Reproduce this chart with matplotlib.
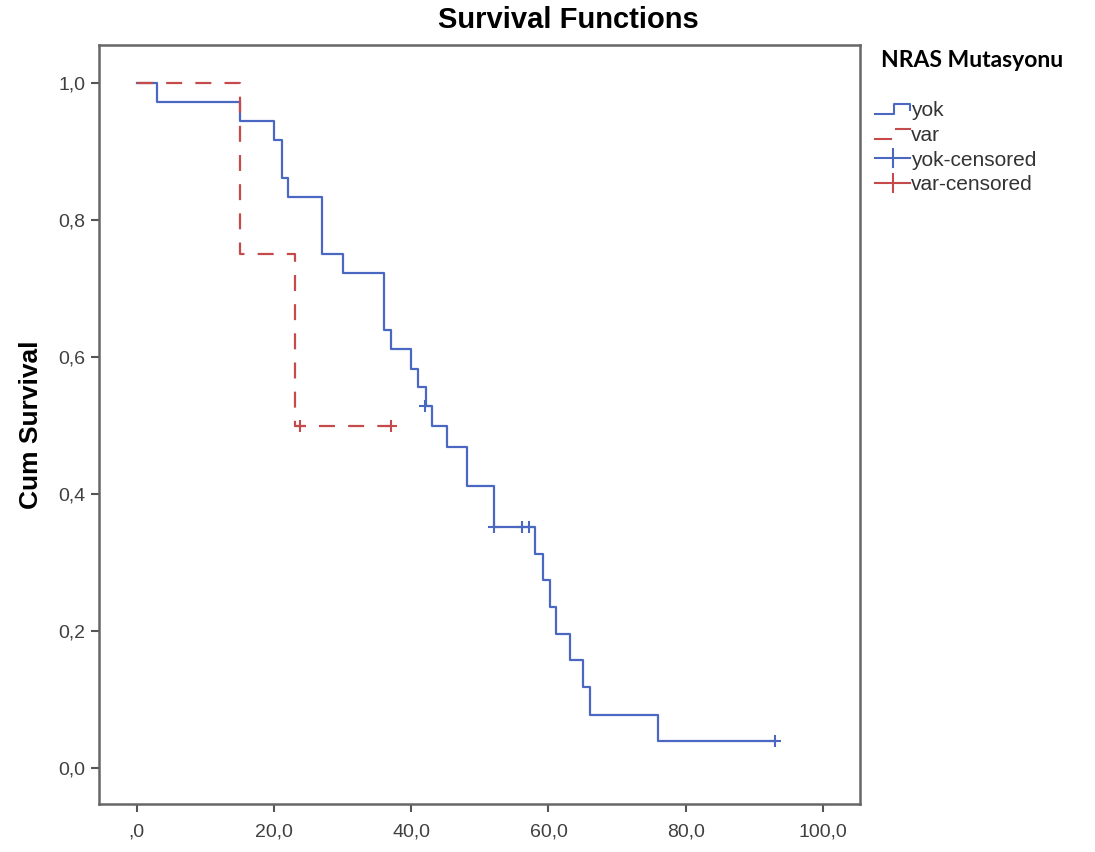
import matplotlib
matplotlib.use("Agg")
import matplotlib.pyplot as plt
from matplotlib.lines import Line2D
from matplotlib.legend_handler import HandlerBase

# Kaplan-Meier steps (months, cumulative survival)
yok_times = [0, 3, 15, 20, 21.2, 22, 27, 30, 36, 37, 40, 41, 42.1, 43, 45.2,
             48.1, 52, 58.1, 59.2, 60.2, 61.1, 63.1, 65, 66.1, 76, 93]
yok_surv = [1.0, 0.972, 0.944, 0.917, 0.861, 0.833, 0.750, 0.722, 0.639, 0.611,
            0.583, 0.556, 0.528, 0.499, 0.469, 0.411, 0.352, 0.313, 0.274,
            0.235, 0.196, 0.157, 0.118, 0.078, 0.039, 0.039]
yok_cens_t = [42.0, 52.0, 56.1, 57.1, 93.0]
yok_cens_s = [0.528, 0.352, 0.352, 0.352, 0.039]

var_times = [0, 15, 23.1, 37.0]
var_surv = [1.0, 0.75, 0.50, 0.50]
var_cens_t = [23.8, 37.0]
var_cens_s = [0.50, 0.50]

x_ticks = [0, 20, 40, 60, 80, 100]
x_labels = [",0", "20,0", "40,0", "60,0", "80,0", "100,0"]
y_ticks = [0, 0.2, 0.4, 0.6, 0.8, 1.0]
y_labels = ["0,0", "0,2", "0,4", "0,6", "0,8", "1,0"]

BLUE = "#4a67c2"
RED = "#c44a4c"
GREY = "#404040"

plt.rcParams["font.family"] = ["Liberation Sans", "DejaVu Sans"]
plt.rcParams["lines.scale_dashes"] = False


class StepHandler(HandlerBase):
    def create_artists(self, legend, orig, xd, yd, width, height, fontsize, trans):
        x = [xd, xd + width * 0.55, xd + width * 0.55, xd + width, xd + width]
        y = [yd + height * 0.15, yd + height * 0.15, yd + height * 0.85,
             yd + height * 0.85, yd + height * 0.45]
        ln = Line2D(x, y, color=orig.get_color(), lw=orig.get_linewidth(),
                    transform=trans)
        return [ln]


class DashStepHandler(HandlerBase):
    def create_artists(self, legend, orig, xd, yd, width, height, fontsize, trans):
        a = Line2D([xd, xd + width * 0.45], [yd + height * 0.15] * 2,
                   color=orig.get_color(), lw=orig.get_linewidth(), transform=trans)
        b = Line2D([xd + width * 0.6, xd + width], [yd + height * 0.85] * 2,
                   color=orig.get_color(), lw=orig.get_linewidth(), transform=trans)
        return [a, b]


fig = plt.figure(figsize=(10.95, 8.52), dpi=100)
ax = fig.add_axes([0.0904, 0.0563, 0.695, 0.8909])

ax.step(yok_times, yok_surv, where="post", color=BLUE, lw=1.6)
ax.step(var_times, var_surv, where="post", color=RED, lw=1.6,
        linestyle=(0, (11.5, 9.5)))
ax.plot(yok_cens_t, yok_cens_s, "+", color=BLUE, ms=9, mew=1.5)
ax.plot(var_cens_t, var_cens_s, "+", color=RED, ms=9, mew=1.5)

ax.set_xlim(-5.5, 105.4)
ax.set_ylim(-0.0526, 1.0555)
ax.set_xticks(x_ticks)
ax.set_xticklabels(x_labels)
ax.set_yticks(y_ticks)
ax.set_yticklabels(y_labels)
ax.tick_params(direction="out", length=6, width=1.5, color="#555555",
               labelsize=14, labelcolor=GREY, pad=4)
ax.tick_params(axis="x", pad=8)
for sp in ax.spines.values():
    sp.set_color("#666666")
    sp.set_linewidth(1.8)

ax.set_ylabel("Cum Survival", fontsize=19, fontweight="bold", labelpad=11)
fig.text(0.519, 0.977, "Survival Functions", fontsize=21, fontweight="bold",
         ha="center", va="center")

fig.text(0.888, 0.929, "NRAS Mutasyonu", fontsize=16.5, fontweight="bold",
         family=["Lato", "DejaVu Sans"], ha="center", va="center")

h_yok = Line2D([], [], color=BLUE, lw=1.5)
h_var = Line2D([], [], color=RED, lw=1.5)
h_yc = Line2D([], [], color=BLUE, lw=1.5, marker="|", ms=14, mew=1.5)
h_vc = Line2D([], [], color=RED, lw=1.5, marker="|", ms=14, mew=1.5)
fig.legend([h_yok, h_var, h_yc, h_vc],
           ["yok", "var", "yok-censored", "var-censored"],
           handler_map={h_yok: StepHandler(), h_var: DashStepHandler()},
           loc="upper left", bbox_to_anchor=(0.799, 0.881), frameon=False,
           fontsize=15, handlelength=1.7, handletextpad=0.05, labelspacing=0.27,
           borderpad=0, borderaxespad=0, labelcolor="#333333")

fig.savefig("out.png", dpi=100)
